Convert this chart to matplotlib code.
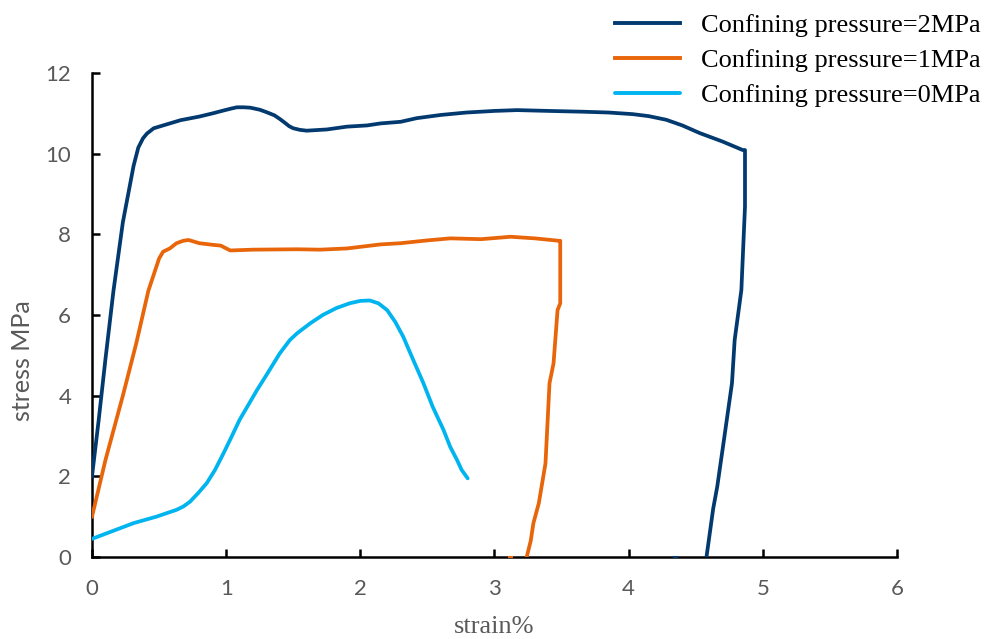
import matplotlib
matplotlib.use("Agg")
import matplotlib.pyplot as plt

# Confining pressure = 2 MPa
strain_2 = [0.0, 0.05, 0.10, 0.16, 0.23, 0.31, 0.345, 0.38, 0.41, 0.46, 0.53, 0.66, 0.80, 0.90, 0.98, 1.04, 1.08,
            1.13, 1.18, 1.25, 1.30, 1.36, 1.40, 1.44, 1.47, 1.50, 1.55, 1.60, 1.75, 1.90, 2.05, 2.15, 2.30, 2.42,
            2.60, 2.79, 3.00, 3.17, 3.40, 3.66, 3.85, 4.03, 4.15, 4.28, 4.40, 4.53, 4.70, 4.85, 4.867, 4.867,
            4.84, 4.79, 4.77, 4.71, 4.66, 4.63, 4.58]
stress_2 = [2.0, 3.4, 4.9, 6.6, 8.3, 9.7, 10.15, 10.38, 10.5, 10.63, 10.7, 10.83, 10.92, 11.0, 11.07, 11.12, 11.15,
            11.15, 11.14, 11.09, 11.03, 10.95, 10.86, 10.76, 10.68, 10.63, 10.59, 10.57, 10.6, 10.67, 10.7, 10.75,
            10.79, 10.88, 10.96, 11.02, 11.06, 11.08, 11.06, 11.04, 11.02, 10.98, 10.93, 10.84, 10.7, 10.51,
            10.3, 10.09, 10.09, 8.69, 6.62, 5.38, 4.31, 2.90, 1.74, 1.2, 0.0]

# Confining pressure = 1 MPa
strain_1 = [0.0, 0.10, 0.23, 0.33, 0.42, 0.50, 0.53, 0.58, 0.63, 0.68, 0.72, 0.76, 0.80, 0.90, 0.96, 1.03, 1.20,
            1.53, 1.70, 1.90, 2.15, 2.30, 2.50, 2.67, 2.90, 3.12, 3.30, 3.48, 3.49, 3.49, 3.47, 3.44,
            3.41, 3.38, 3.33, 3.29, 3.27, 3.24]
stress_1 = [1.0, 2.4, 4.0, 5.3, 6.6, 7.4, 7.57, 7.65, 7.78, 7.84, 7.86, 7.82, 7.78, 7.74, 7.72, 7.60, 7.62,
            7.63, 7.62, 7.65, 7.75, 7.78, 7.85, 7.90, 7.88, 7.94, 7.90, 7.84, 7.84, 6.29, 6.12, 4.80,
            4.31, 2.32, 1.33, 0.84, 0.4, 0.0]

# Confining pressure = 0 MPa
strain_0 = [0.0, 0.31, 0.48, 0.63, 0.68, 0.73, 0.79, 0.855, 0.917, 0.98, 1.04, 1.10, 1.165, 1.23, 1.30,
            1.40, 1.475, 1.53, 1.625, 1.72, 1.82, 1.92, 2.00, 2.07, 2.135, 2.20, 2.26, 2.32, 2.395, 2.47,
            2.54, 2.62, 2.67, 2.72, 2.755, 2.80]
stress_0 = [0.45, 0.84, 1.00, 1.17, 1.25, 1.37, 1.58, 1.83, 2.16, 2.57, 2.98, 3.40, 3.77, 4.14, 4.51,
            5.05, 5.38, 5.55, 5.79, 6.00, 6.17, 6.29, 6.35, 6.36, 6.29, 6.12, 5.83, 5.46, 4.88, 4.31,
            3.72, 3.15, 2.73, 2.41, 2.16, 1.95]

# small residual points on the strain axis
stray_strain_2 = [4.34, 4.36]
stray_strain_1 = [3.11, 3.13]

labels = ["Confining pressure=2MPa", "Confining pressure=1MPa", "Confining pressure=0MPa"]
colors = ["#023A70", "#E8650A", "#00B4F0"]
x_ticks = [0, 1, 2, 3, 4, 5, 6]
y_ticks = [0, 2, 4, 6, 8, 10, 12]

fig = plt.figure(figsize=(9.87, 6.39), dpi=100)
ax = fig.add_axes([92/987, 1-557/639, (897-92)/987, (557-73)/639])

lw = 2.7
ax.plot(strain_2, stress_2, color=colors[0], lw=lw, label=labels[0], solid_joinstyle="round")
ax.plot(strain_1, stress_1, color=colors[1], lw=lw, label=labels[1], solid_joinstyle="round")
ax.plot(strain_0, stress_0, color=colors[2], lw=lw, label=labels[2], solid_joinstyle="round",
        solid_capstyle="round")
ax.plot(stray_strain_2, [0, 0], color=colors[0], lw=1.5, clip_on=False)
ax.plot(stray_strain_1, [0, 0], color=colors[1], lw=1.5, clip_on=False)

ax.set_xlim(0, 6)
ax.set_ylim(0, 12)
ax.set_xticks(x_ticks)
ax.set_yticks(y_ticks)
for s in ["top", "right"]:
    ax.spines[s].set_visible(False)
for s in ["left", "bottom"]:
    ax.spines[s].set_linewidth(1.8)
    ax.spines[s].set_color("black")
    ax.spines[s].set_zorder(0.5)
ax.tick_params(direction="in", length=6, width=1.8, color="black",
               labelsize=16, labelcolor="#595959")
ax.tick_params(axis="x", pad=16)
ax.tick_params(axis="y", pad=15)
for lab in ax.get_xticklabels() + ax.get_yticklabels():
    lab.set_family("Lato")

ax.set_xlabel("strain%", family="Liberation Serif", fontsize=19, color="#595959", labelpad=12)
ax.set_ylabel("stress MPa", family="Lato", fontsize=18, color="#595959",
              ha="center", va="center")
ax.yaxis.set_label_coords((22 - 92) / 805, (557 - 361) / 484)

leg = fig.legend(loc="upper left", bbox_to_anchor=(615/987, 1 - 14/639), frameon=False,
                 prop={"family": "Liberation Serif", "size": 19}, borderpad=0, borderaxespad=0,
                 handlelength=2.46, handletextpad=0.8, labelspacing=0.43)
for line in leg.get_lines():
    line.set_linewidth(2.8)

fig.savefig("out.png", dpi=100)
